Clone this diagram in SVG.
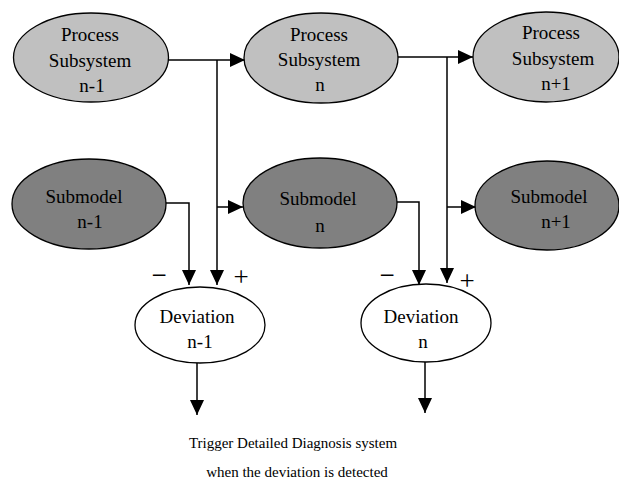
<svg xmlns="http://www.w3.org/2000/svg" width="619" height="482" viewBox="0 0 619 482" font-family="Liberation Serif, DejaVu Serif, serif">
<style>
  .proc { fill: #c0c0c0; stroke: #000; stroke-width: 1.3; }
  .sub { fill: #808080; stroke: #000; stroke-width: 1.3; }
  .dev { fill: #ffffff; stroke: #000; stroke-width: 1.3; }
  .lbl { font-family: 'Liberation Serif', serif; font-size: 19px; text-anchor: middle; fill: #000; }
  .sign { font-family: 'Liberation Serif', serif; font-size: 27px; text-anchor: middle; fill: #000; }
  .note { font-family: 'Liberation Serif', serif; font-size: 15px; text-anchor: middle; fill: #000; }
  .conn path { fill: none; stroke: #000; stroke-width: 1.5; marker-end: url(#arr); }
</style>
<defs>
  <marker id="arr" markerUnits="userSpaceOnUse" markerWidth="16" markerHeight="15" refX="15" refY="7" orient="auto">
    <path d="M0,0 L15,7 L0,14 Z" fill="#000"/>
  </marker>
</defs>
<rect width="619" height="482" fill="#fff"/>

<g id="connectors" class="conn">
  <path d="M167,60 H245"/>
  <path d="M217,60 V285"/>
  <path d="M217,207 H243"/>
  <path d="M166,203 H189 V285"/>
  <path d="M398,57 H473"/>
  <path d="M447,57 V283"/>
  <path d="M447,207 H476"/>
  <path d="M397,202 H419 V285"/>
  <path d="M197,363 V415"/>
  <path d="M425,362 V413"/>
</g>

<g id="process-n-1">
  <ellipse class="proc" cx="91" cy="57.5" rx="77.5" ry="44.5"/>
  <text class="lbl" x="90" y="41">Process</text>
  <text class="lbl" x="90" y="67">Subsystem</text>
  <text class="lbl" x="92" y="92">n-1</text>
</g>
<g id="process-n">
  <ellipse class="proc" cx="321" cy="58" rx="77" ry="45"/>
  <text class="lbl" x="319" y="41">Process</text>
  <text class="lbl" x="319" y="66">Subsystem</text>
  <text class="lbl" x="320" y="91">n</text>
</g>
<g id="process-n+1">
  <ellipse class="proc" cx="546" cy="57" rx="73" ry="45"/>
  <text class="lbl" x="551" y="39">Process</text>
  <text class="lbl" x="553" y="65">Subsystem</text>
  <text class="lbl" x="556" y="90">n+1</text>
</g>

<g id="submodel-n-1">
  <ellipse class="sub" cx="89" cy="204" rx="77" ry="45"/>
  <text class="lbl" x="84" y="203">Submodel</text>
  <text class="lbl" x="90" y="228">n-1</text>
</g>
<g id="submodel-n">
  <ellipse class="sub" cx="320" cy="203" rx="77" ry="45"/>
  <text class="lbl" x="318" y="205">Submodel</text>
  <text class="lbl" x="320" y="232">n</text>
</g>
<g id="submodel-n+1">
  <ellipse class="sub" cx="547" cy="205.5" rx="72" ry="44.5"/>
  <text class="lbl" x="549" y="203">Submodel</text>
  <text class="lbl" x="556" y="228">n+1</text>
</g>

<g id="deviation-n-1">
  <ellipse class="dev" cx="200" cy="325" rx="65" ry="38"/>
  <text class="lbl" x="197" y="323">Deviation</text>
  <text class="lbl" x="200" y="348">n-1</text>
</g>
<g id="deviation-n">
  <ellipse class="dev" cx="426" cy="323" rx="65" ry="39"/>
  <text class="lbl" x="421" y="323">Deviation</text>
  <text class="lbl" x="423" y="348">n</text>
</g>

<g id="signs">
  <text class="sign" x="159" y="284">−</text>
  <text class="sign" x="241" y="286">+</text>
  <text class="sign" x="387" y="284">−</text>
  <text class="sign" x="467" y="290">+</text>
</g>

<g id="note">
  <text class="note" x="293" y="448">Trigger Detailed Diagnosis system</text>
  <text class="note" x="297" y="477">when the deviation is detected</text>
</g>
</svg>
